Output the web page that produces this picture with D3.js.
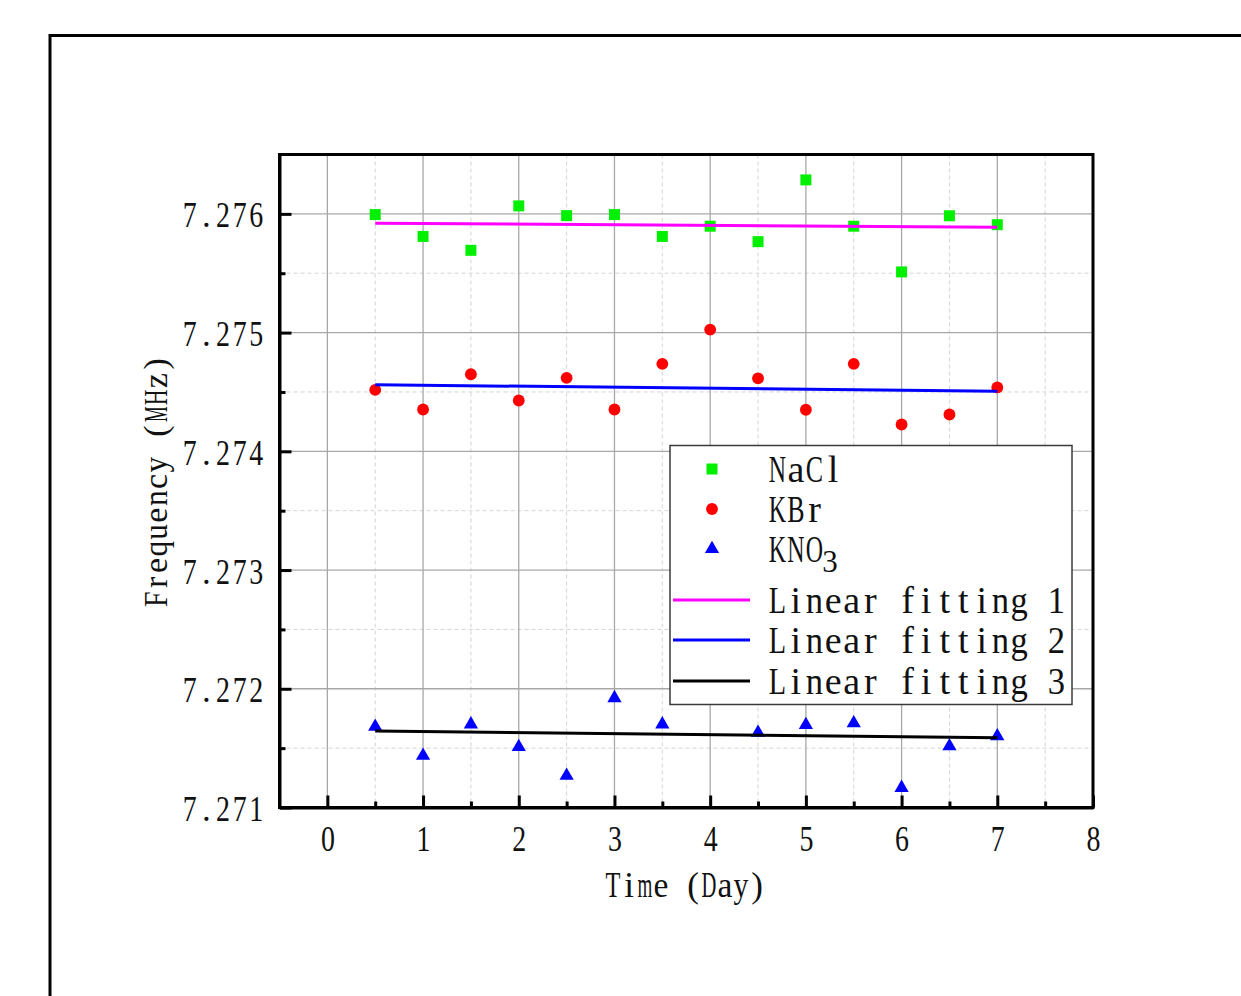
<!DOCTYPE html>
<html>
<head>
<meta charset="utf-8">
<script src="https://cdn.jsdelivr.net/npm/d3@7/dist/d3.min.js"></script>
<style>
  html, body { margin: 0; padding: 0; background: #fff; }
  svg { display: block; }
  text { font-family: "Liberation Serif", "DejaVu Serif", serif; fill: #111; white-space: pre; }
</style>
</head>
<body>
<svg id="chart" width="1241" height="996"></svg>
<script>
// ---- data ----
const days = [0.5, 1, 1.5, 2, 2.5, 3, 3.5, 4, 4.5, 5, 5.5, 6, 6.5, 7];
const nacl = [7.275994, 7.27581, 7.275693, 7.276067, 7.275985, 7.275994, 7.27581,
              7.275896, 7.275766, 7.276286, 7.275896, 7.275511, 7.275984, 7.275909];
const kbr  = [7.274517, 7.274352, 7.274649, 7.274428, 7.274619, 7.274352, 7.274737,
              7.275025, 7.274615, 7.27435, 7.274737, 7.274226, 7.27431, 7.274538];
// value at day 4 is hidden behind the legend in the reference
const kno3 = [7.271681, 7.271436, 7.271701, 7.27151, 7.271268, 7.271922, 7.271701,
              null, 7.27163, 7.271695, 7.27171, 7.271166, 7.271516, 7.271601];
const fitDays = [0.5, 7];
const fit1 = [7.275921, 7.275887];
const fit2 = [7.274561, 7.274506];
const fit3 = [7.271644, 7.271588];
const xTicks = [0, 1, 2, 3, 4, 5, 6, 7, 8];
const xMinor = [0.5, 1.5, 2.5, 3.5, 4.5, 5.5, 6.5, 7.5];
const yTicks = [7.271, 7.272, 7.273, 7.274, 7.275, 7.276];
const yMinor = [7.2715, 7.2725, 7.2735, 7.2745, 7.2755];
const xLabel = "Time (Day)";
const yLabel = "Frequency (MHz)";
const legendScatter = ["NaCl", "KBr", "KNO"];
const legendLines = ["Linear fitting 1", "Linear fitting 2", "Linear fitting 3"];

// ---- helpers: fixed-pitch (SimSun-like) layout with serif glyphs ----
// every character sits centred in its own cell; glyphs wider than the cell are squeezed
function layoutMono(textSel, str, startX, adv, ratio) {
  textSel.text(null).attr("text-anchor", "start");
  const maxW = adv * ratio;
  Array.from(str).forEach((c, i) => {
    const ts = textSel.append("tspan").text(c);
    const w0 = ts.node().getComputedTextLength();
    const w = Math.min(w0, maxW);
    if (w0 > maxW && c !== " ") ts.attr("textLength", maxW.toFixed(2)).attr("lengthAdjust", "spacingAndGlyphs");
    ts.attr("x", (startX + adv * (i + 0.5) - w / 2).toFixed(2));
  });
  return textSel;
}
function monoText(parent, str, cx, cy, adv, fontSize, anchor, rot, ratio) {
  const n = str.length;
  const start = anchor === "middle" ? -n * adv / 2 : (anchor === "end" ? -n * adv : 0);
  const g = parent.append("g").attr("transform", `translate(${cx},${cy}) rotate(${rot || 0})`);
  const t = g.append("text").attr("y", 0).attr("font-size", fontSize);
  return layoutMono(t, str, start, adv, ratio);
}

// ---- layout ----
const svg = d3.select("#chart");
const L = 279.5, R = 1093, T = 154.5, B = 807.5;
const x = d3.scaleLinear().domain([-0.5, 8]).range([L, R]);
const y = d3.scaleLinear().domain([7.271, 7.2765]).range([B, T]);

// outer frame (extends past the page)
svg.append("rect").attr("x", 50).attr("y", 35.5).attr("width", 1300).attr("height", 1100)
  .attr("fill", "none").attr("stroke", "#000").attr("stroke-width", 3);

// grid
const grid = svg.append("g");
grid.selectAll(".gxm").data(xMinor).join("line")
  .attr("x1", d => x(d)).attr("x2", d => x(d)).attr("y1", T).attr("y2", B)
  .attr("stroke", "#d4d4d4").attr("stroke-width", 1).attr("stroke-dasharray", "4,3");
grid.selectAll(".gym").data(yMinor).join("line")
  .attr("x1", L).attr("x2", R).attr("y1", d => y(d)).attr("y2", d => y(d))
  .attr("stroke", "#d4d4d4").attr("stroke-width", 1).attr("stroke-dasharray", "4,3");
grid.selectAll(".gx").data(xTicks.filter(d => d < 8)).join("line")
  .attr("x1", d => x(d)).attr("x2", d => x(d)).attr("y1", T).attr("y2", B)
  .attr("stroke", "#a8a8a8").attr("stroke-width", 1.3);
grid.selectAll(".gy").data(yTicks).join("line")
  .attr("x1", L).attr("x2", R).attr("y1", d => y(d)).attr("y2", d => y(d))
  .attr("stroke", "#a8a8a8").attr("stroke-width", 1.3);

// markers
const sym = (type, size) => d3.symbol().type(type).size(size)();
svg.append("g").selectAll("path").data(days.map((d, i) => [d, nacl[i]]))
  .join("path").attr("d", sym(d3.symbolSquare, 121))
  .attr("transform", d => `translate(${x(d[0])},${y(d[1])})`).attr("fill", "#00f000");
svg.append("g").selectAll("path").data(days.map((d, i) => [d, kbr[i]]))
  .join("path").attr("d", sym(d3.symbolCircle, 110))
  .attr("transform", d => `translate(${x(d[0])},${y(d[1])})`).attr("fill", "#ff0000");
svg.append("g").selectAll("path").data(days.map((d, i) => [d, kno3[i]]).filter(d => d[1] != null))
  .join("path").attr("d", sym(d3.symbolTriangle, 88))
  .attr("transform", d => `translate(${x(d[0])},${y(d[1])})`).attr("fill", "#0000ff");

// fit lines
const line = d3.line().x(d => x(d[0])).y(d => y(d[1]));
[[fit1, "#ff00ff"], [fit2, "#0000ff"], [fit3, "#000000"]].forEach(([f, c]) => {
  svg.append("path").datum(fitDays.map((d, i) => [d, f[i]]))
    .attr("d", line).attr("fill", "none").attr("stroke", c).attr("stroke-width", 3);
});

// axes
const xAxis = svg.append("g").attr("transform", `translate(0,${B})`)
  .call(d3.axisBottom(x).tickValues(xTicks).tickSizeInner(-12).tickSizeOuter(0).tickFormat(d3.format("d")));
const xMin = svg.append("g").attr("transform", `translate(0,${B})`)
  .call(d3.axisBottom(x).tickValues(xMinor).tickSizeInner(-6).tickSizeOuter(0).tickFormat(""));
const yAxis = svg.append("g").attr("transform", `translate(${L},0)`)
  .call(d3.axisLeft(y).tickValues(yTicks).tickSizeInner(-12).tickSizeOuter(0).tickFormat(d3.format(".3f")));
const yMin = svg.append("g").attr("transform", `translate(${L},0)`)
  .call(d3.axisLeft(y).tickValues(yMinor).tickSizeInner(-6).tickSizeOuter(0).tickFormat(""));
[xMin, yMin].forEach(g => g.select(".domain").remove());
[xAxis, yAxis, xMin, yMin].forEach(g => {
  g.selectAll(".tick line").attr("stroke", "#000").attr("stroke-width", 3);
  g.select(".domain").attr("stroke", "#000").attr("stroke-width", 3);
});
const tickFont = 35, tickAdv = 16.6, tickRatio = 0.84;
xAxis.selectAll(".tick text").each(function () {
  const t = d3.select(this).attr("y", 43.5).attr("dy", null)
    .attr("font-size", tickFont).attr("font-family", "Liberation Serif").attr("fill", "#111");
  const s = this.textContent;
  layoutMono(t, s, -s.length * tickAdv / 2, tickAdv, tickRatio);
});
yAxis.selectAll(".tick text").each(function () {
  const t = d3.select(this).attr("y", 13).attr("dy", null)
    .attr("font-size", tickFont).attr("font-family", "Liberation Serif").attr("fill", "#111");
  const s = this.textContent;
  layoutMono(t, s, -15 - s.length * tickAdv, tickAdv, tickRatio);
});

// plot frame (top & right)
svg.append("rect").attr("x", L).attr("y", T).attr("width", R - L).attr("height", B - T)
  .attr("fill", "none").attr("stroke", "#000").attr("stroke-width", 3);

// axis titles
monoText(svg, xLabel, 685, 897, 16, 35, "middle", 0, 0.93);
monoText(svg, yLabel, 167, 481.5, 16.8, 34, "middle", -90, 0.93);

// legend
const lg = svg.append("g");
lg.append("rect").attr("x", 670).attr("y", 445.5).attr("width", 402).attr("height", 259)
  .attr("fill", "#fff").attr("stroke", "#3a3a3a").attr("stroke-width", 1.5);
const symX = 712, textX = 768, legAdv = 18.6, legFont = 38, legRatio = 0.93;
const rowsS = [469, 509, 549];
const rowsL = [600, 640, 681];
const legSyms = [[d3.symbolSquare, 121, "#00f000"], [d3.symbolCircle, 110, "#ff0000"], [d3.symbolTriangle, 88, "#0000ff"]];
legSyms.forEach((s, i) => {
  lg.append("path").attr("d", sym(s[0], s[1])).attr("fill", s[2])
    .attr("transform", `translate(${symX},${rowsS[i]})`);
  const t = monoText(lg, legendScatter[i], textX, rowsS[i] + 13, legAdv, legFont, "start", 0, legRatio);
  if (i === 2) {
    t.append("tspan").attr("font-size", 31)
      .attr("x", (3 * legAdv - 1.5).toFixed(2)).attr("y", 10).text("3");
  }
});
["#ff00ff", "#0000ff", "#000000"].forEach((c, i) => {
  lg.append("line").attr("x1", 673).attr("x2", 750).attr("y1", rowsL[i]).attr("y2", rowsL[i])
    .attr("stroke", c).attr("stroke-width", 3);
  monoText(lg, legendLines[i], textX, rowsL[i] + 13, legAdv, legFont, "start", 0, legRatio);
});
</script>
</body>
</html>
